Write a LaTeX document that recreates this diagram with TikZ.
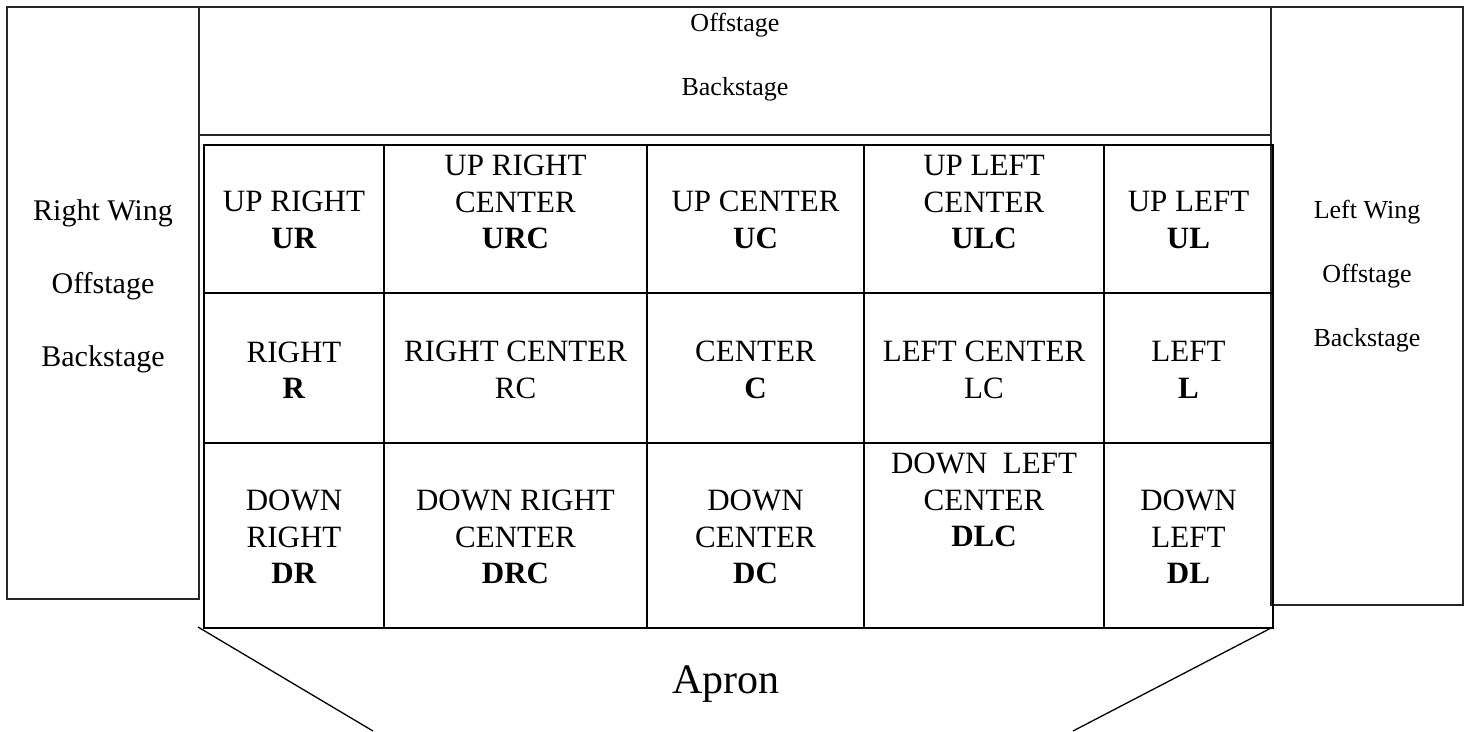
\documentclass[tikz,border=0pt]{standalone}
\usepackage{fontspec}
\setmainfont{Liberation Serif}
\usetikzlibrary{positioning}

\begin{document}
\begin{tikzpicture}[x=1pt, y=-1pt,
    frame/.style={draw=black!85, line width=1.3pt},
    gridline/.style={draw=black, line width=2pt},
    cell/.style={align=center, inner sep=0pt, font=\fontsize{31}{36.5}\selectfont},
    wingtext/.style={align=center, inner sep=0pt, font=\fontsize{30}{73}\selectfont},
    offtext/.style={align=center, inner sep=0pt, font=\fontsize{26}{64}\selectfont}
]
\useasboundingbox (0,0) rectangle (1469,731);

% Offstage boxes
\draw[frame] (7,7) rectangle (199,599);
\draw[frame] (199,7) rectangle (1271,135);
\draw[frame] (1271,7) rectangle (1463,605);

% Stage grid
\draw[gridline] (204,145) rectangle (1273,628);
\foreach \x in {384,647,864,1104}
  \draw[gridline] (\x,145) -- (\x,628);
\foreach \y in {293,443}
  \draw[gridline] (204,\y) -- (1273,\y);

% Apron
\coordinate (apronL) at (198,627);
\coordinate (apronLend) at (373,731);
\coordinate (apronR) at (1273,627);
\coordinate (apronRend) at (1073,731);
\draw[line width=1.3pt] (apronL) -- (apronLend);
\draw[line width=1.3pt] (apronR) -- (apronRend);
\node[inner sep=0pt, font=\fontsize{42}{48}\selectfont, anchor=base] (apron) at (726,693) {Apron};

% Offstage labels
\node[wingtext] (rwing) at (103,286) {Right Wing\\Offstage\\Backstage};
\node[offtext] (lwing) at (1367,276) {Left Wing\\Offstage\\Backstage};
\node[offtext] (back) at (735,57) {Offstage\\Backstage};

% Upstage row
\node[cell] (ur) at (294,220) {UP RIGHT\\\textbf{UR}};
\node[cell] (urc) at (515.5,202) {UP RIGHT\\CENTER\\\textbf{URC}};
\node[cell] (uc) at (755.5,220) {UP CENTER\\\textbf{UC}};
\node[cell] (ulc) at (984,202) {UP LEFT\\CENTER\\\textbf{ULC}};
\node[cell] (ul) at (1188.5,220) {UP LEFT\\\textbf{UL}};

% Center row
\node[cell] (r) at (294,370) {RIGHT\\\textbf{R}};
\node[cell] (rc) at (515.5,370) {RIGHT CENTER\\RC};
\node[cell] (c) at (755.5,370) {CENTER\\\textbf{C}};
\node[cell] (lc) at (984,370) {LEFT CENTER\\LC};
\node[cell] (l) at (1188.5,370) {LEFT\\\textbf{L}};

% Downstage row
\node[cell] (dr) at (294,537) {DOWN\\RIGHT\\\textbf{DR}};
\node[cell] (drc) at (515.5,537) {DOWN RIGHT\\CENTER\\\textbf{DRC}};
\node[cell] (dc) at (755.5,537) {DOWN\\CENTER\\\textbf{DC}};
\node[cell] (dlc) at (984,500) {DOWN\ \ LEFT\\CENTER\\\textbf{DLC}};
\node[cell] (dl) at (1188.5,537) {DOWN\\LEFT\\\textbf{DL}};
\end{tikzpicture}
\end{document}
